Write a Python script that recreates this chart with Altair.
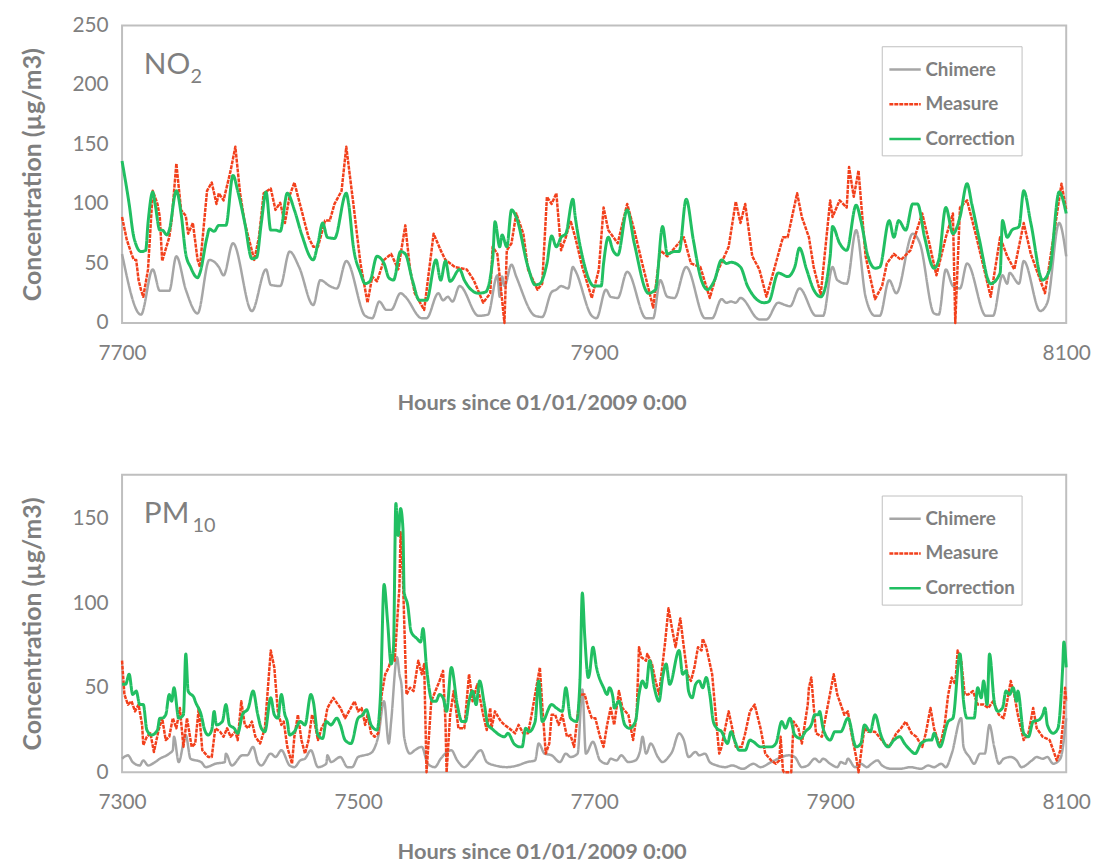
import altair as alt
import pandas as pd

SERIES = ["Chimere", "Measure", "Correction"]
COLORS = ["#a6a6a6", "#f2401c", "#21bf62"]
DASHES = [[1, 0], [4, 1], [1, 0]]
WIDTHS = [2.5, 2.5, 3]
INTERP = ["monotone", "linear", "monotone"]
GREY = "#7f7f7f"
FONT = "Lato"

no2_x_ticks = [7700, 7900, 8100]
no2_y_ticks = [0, 50, 100, 150, 200, 250]
pm_x_ticks = [7300, 7500, 7700, 7900, 8100]
pm_y_ticks = [0, 50, 100, 150]

no2_chimere = [(7700,58),(7708,7),(7713,45),(7716,27),(7720,27),(7723,56),(7727,28),(7732,8),(7737,53),(7741,47),(7743,40),(7747,67),(7755,10),(7761,45),(7763,32),(7767,31),(7771,60),(7775,47),(7781,15),(7784,36),(7788,31),(7791,29),(7795,52),(7803,6),(7806,4),(7809,18),(7812,11),(7814,11),(7818,25),(7820,22),(7827,4),(7829,4),(7834,25),(7836,19),(7838,22),(7840,18),(7843,31),(7851,6),(7855,7),(7859,40),(7860,22),(7861,39),(7862,31),(7865,49),(7867,39),(7875,6),(7878,5),(7882,26),(7884,28),(7886,31),(7889,29),(7891,47),(7892,44),(7899,6),(7901,4),(7905,28),(7907,22),(7910,21),(7914,43),(7922,4),(7925,4),(7928,36),(7931,22),(7934,21),(7939,47),(7947,4),(7950,4),(7954,20),(7956,17),(7958,18),(7960,17),(7962,21),(7970,3),(7973,3),(7978,17),(7981,15),(7983,14),(7987,29),(7994,6),(7997,6),(8001,47),(8003,36),(8007,33),(8011,78),(8015,22),(8019,6),(8021,6),(8025,36),(8028,25),(8035,75),(8038,67),(8044,8),(8046,7),(8049,45),(8052,31),(8055,29),(8058,50),(8066,6),(8069,6),(8073,40),(8075,33),(8076,42),(8080,33),(8082,52),(8089,10),(8092,17),(8097,84),(8100,56)]

no2_measure = [(7700,89),(7702,70),(7704,58),(7705,53),(7706,53),(7707,36),(7708,28),(7709,22),(7711,45),(7713,111),(7715,100),(7716,89),(7717,52),(7720,72),(7721,86),(7723,134),(7725,95),(7727,90),(7728,75),(7730,84),(7732,53),(7733,47),(7736,111),(7738,118),(7740,100),(7741,109),(7743,103),(7746,128),(7748,148),(7750,109),(7752,84),(7756,53),(7758,72),(7760,109),(7763,113),(7765,95),(7767,101),(7769,84),(7771,107),(7773,118),(7776,95),(7779,72),(7781,64),(7783,64),(7786,86),(7788,86),(7790,100),(7793,111),(7795,148),(7798,100),(7801,50),(7804,17),(7806,39),(7808,35),(7811,53),(7814,58),(7817,45),(7820,82),(7822,45),(7824,25),(7828,11),(7832,75),(7835,61),(7837,53),(7841,47),(7846,45),(7849,36),(7853,17),(7856,25),(7857,64),(7859,58),(7862,0),(7863,61),(7865,67),(7867,92),(7870,75),(7872,45),(7876,28),(7878,33),(7880,106),(7882,100),(7884,109),(7886,61),(7888,72),(7890,86),(7892,72),(7895,47),(7899,21),(7902,45),(7904,97),(7906,78),(7910,67),(7914,100),(7917,78),(7920,53),(7925,13),(7928,61),(7931,56),(7938,72),(7941,50),(7945,47),(7949,21),(7952,42),(7957,64),(7960,102),(7962,84),(7964,100),(7967,56),(7970,45),(7973,22),(7975,36),(7980,72),(7982,72),(7986,109),(7988,89),(7991,72),(7993,47),(7996,24),(8000,103),(8001,89),(8004,103),(8007,97),(8008,131),(8010,106),(8012,128),(8015,56),(8019,20),(8022,31),(8024,50),(8027,58),(8030,53),(8034,61),(8039,92),(8042,67),(8045,40),(8049,72),(8052,92),(8053,0),(8055,97),(8058,103),(8062,72),(8068,22),(8072,72),(8075,56),(8078,45),(8082,84),(8085,58),(8091,25),(8098,117),(8100,95)]

no2_correction = [(7700,136),(7703,100),(7705,72),(7708,60),(7710,61),(7711,84),(7713,110),(7714,100),(7716,78),(7717,78),(7719,74),(7720,78),(7723,111),(7725,92),(7727,58),(7729,47),(7732,38),(7733,42),(7736,72),(7737,79),(7739,77),(7741,82),(7744,82),(7747,124),(7749,111),(7752,84),(7755,54),(7757,55),(7759,84),(7761,110),(7763,78),(7765,78),(7767,77),(7770,109),(7773,95),(7776,75),(7781,53),(7783,67),(7785,84),(7787,72),(7790,71),(7795,109),(7796,100),(7798,64),(7801,42),(7803,33),(7805,35),(7808,56),(7811,50),(7813,38),(7815,36),(7818,60),(7820,58),(7823,36),(7826,19),(7829,19),(7833,53),(7835,36),(7837,52),(7839,35),(7843,45),(7845,36),(7851,25),(7854,26),(7857,53),(7858,85),(7860,64),(7861,74),(7863,64),(7865,95),(7867,89),(7872,47),(7875,32),(7877,33),(7880,50),(7882,73),(7884,64),(7886,72),(7888,75),(7891,104),(7892,89),(7895,56),(7900,31),(7903,31),(7904,50),(7906,72),(7908,61),(7910,57),(7914,95),(7917,67),(7923,25),(7926,28),(7929,81),(7931,58),(7934,60),(7936,60),(7939,104),(7942,70),(7945,39),(7948,28),(7951,36),(7954,53),(7956,50),(7958,51),(7962,47),(7965,31),(7972,17),(7974,18),(7978,42),(7982,39),(7985,47),(7987,63),(7990,45),(7993,28),(7996,22),(8000,56),(8001,81),(8004,67),(8007,61),(8011,99),(8013,86),(8016,56),(8019,46),(8021,47),(8025,86),(8027,72),(8029,86),(8032,78),(8035,100),(8037,100),(8040,72),(8044,46),(8046,53),(8049,97),(8052,75),(8055,89),(8058,117),(8060,100),(8063,72),(8068,33),(8072,42),(8073,86),(8075,72),(8077,78),(8080,81),(8082,111),(8085,84),(8090,36),(8093,45),(8097,110),(8100,92)]

pm_chimere = [(7300,8),(7305,10),(7309,6),(7315,4),(7318,7),(7322,4),(7328,6),(7332,8),(7340,11),(7343,13),(7344,21),(7348,6),(7354,22),(7358,8),(7367,6),(7371,3),(7379,5),(7387,6),(7388,11),(7393,4),(7402,10),(7406,10),(7411,15),(7415,6),(7418,4),(7426,11),(7430,9),(7435,13),(7442,4),(7446,3),(7451,7),(7455,8),(7460,13),(7466,3),(7473,5),(7474,10),(7477,6),(7485,9),(7491,3),(7495,3),(7500,9),(7505,10),(7510,11),(7513,13),(7517,21),(7522,42),(7526,17),(7528,30),(7533,68),(7535,58),(7537,50),(7539,21),(7544,11),(7548,13),(7554,15),(7559,5),(7565,3),(7570,8),(7579,13),(7584,7),(7590,3),(7596,7),(7604,13),(7609,6),(7616,4),(7626,3),(7635,4),(7643,6),(7650,7),(7653,17),(7658,11),(7664,10),(7671,6),(7676,11),(7680,9),(7686,11),(7690,49),(7693,11),(7699,18),(7705,7),(7711,5),(7714,8),(7719,7),(7723,10),(7729,6),(7735,7),(7739,13),(7741,21),(7744,11),(7748,17),(7754,9),(7758,6),(7763,9),(7766,12),(7772,23),(7776,19),(7780,9),(7786,12),(7789,10),(7794,11),(7798,6),(7804,4),(7811,3),(7817,4),(7826,2),(7835,5),(7841,3),(7850,6),(7865,10),(7870,9),(7876,3),(7881,4),(7887,8),(7891,6),(7894,8),(7900,5),(7906,3),(7909,6),(7913,5),(7915,8),(7921,3),(7926,5),(7931,3),(7935,5),(7940,7),(7944,4),(7952,2),(7959,2),(7968,3),(7977,2),(7983,4),(7988,3),(7994,5),(7998,3),(8003,11),(8011,32),(8013,15),(8018,9),(8022,5),(8027,11),(8031,11),(8035,28),(8039,15),(8043,5),(8047,8),(8053,9),(8058,7),(8062,3),(8071,7),(8075,9),(8080,8),(8084,9),(8089,5),(8095,8),(8100,32)]

pm_measure = [(7300,66),(7302,46),(7305,40),(7308,42),(7311,36),(7314,40),(7317,28),(7318,16),(7321,21),(7324,23),(7327,12),(7331,25),(7334,32),(7337,19),(7340,21),(7343,32),(7346,26),(7349,38),(7352,15),(7355,32),(7359,15),(7362,17),(7365,38),(7368,13),(7373,9),(7376,9),(7379,26),(7383,24),(7386,21),(7389,26),(7392,21),(7396,24),(7398,19),(7401,42),(7404,28),(7407,26),(7410,30),(7413,21),(7417,17),(7421,26),(7426,72),(7429,62),(7432,36),(7435,28),(7437,30),(7440,15),(7444,5),(7446,21),(7449,34),(7452,19),(7455,11),(7458,19),(7461,34),(7463,30),(7466,19),(7469,26),(7472,30),(7474,38),(7479,44),(7485,38),(7489,32),(7497,42),(7500,36),(7503,38),(7506,28),(7508,34),(7511,23),(7514,21),(7517,23),(7520,46),(7523,58),(7526,62),(7529,70),(7531,66),(7534,99),(7535,109),(7536,142),(7538,115),(7539,91),(7541,46),(7544,50),(7547,48),(7551,66),(7554,58),(7556,64),(7558,0),(7562,42),(7569,54),(7572,60),(7574,30),(7575,0),(7578,34),(7581,48),(7585,26),(7590,26),(7594,58),(7597,42),(7601,52),(7606,34),(7609,25),(7612,38),(7613,26),(7616,36),(7621,30),(7624,28),(7628,26),(7633,23),(7636,28),(7640,23),(7644,23),(7647,34),(7650,46),(7654,62),(7656,40),(7659,11),(7662,17),(7664,34),(7667,34),(7670,28),(7673,34),(7677,21),(7680,22),(7683,15),(7688,46),(7692,46),(7695,38),(7698,32),(7701,32),(7705,21),(7708,15),(7711,28),(7714,38),(7717,28),(7721,48),(7724,38),(7729,34),(7733,19),(7736,34),(7738,74),(7740,68),(7744,66),(7745,70),(7749,64),(7752,54),(7755,46),(7760,76),(7763,97),(7766,85),(7769,74),(7773,91),(7776,74),(7779,58),(7782,54),(7785,62),(7788,74),(7791,72),(7792,79),(7795,74),(7800,58),(7804,26),(7806,11),(7808,15),(7811,26),(7814,36),(7817,26),(7820,15),(7825,15),(7828,23),(7832,36),(7836,40),(7841,26),(7845,11),(7850,7),(7854,5),(7857,7),(7858,21),(7860,1),(7861,0),(7867,0),(7869,30),(7873,26),(7876,17),(7881,40),(7882,50),(7884,56),(7888,23),(7893,21),(7903,58),(7906,46),(7912,34),(7915,36),(7918,23),(7922,9),(7924,0),(7929,26),(7932,24),(7938,24),(7946,17),(7950,15),(7956,23),(7960,26),(7964,30),(7969,23),(7973,21),(7978,15),(7981,23),(7985,38),(7988,26),(7993,15),(7997,28),(8000,46),(8003,56),(8006,52),(8008,72),(8011,66),(8014,46),(8017,46),(8021,48),(8025,40),(8030,40),(8034,38),(8038,42),(8043,34),(8047,32),(8050,42),(8053,54),(8056,46),(8059,34),(8064,19),(8068,23),(8072,38),(8075,26),(8080,21),(8086,19),(8090,11),(8092,7),(8095,13),(8098,34),(8099,50),(8100,42)]

pm_correction = [(7300,52),(7303,52),(7306,58),(7309,46),(7312,48),(7315,40),(7318,40),(7321,25),(7325,22),(7330,25),(7332,32),(7334,32),(7337,34),(7340,46),(7342,42),(7344,50),(7348,32),(7352,34),(7354,70),(7356,48),(7361,44),(7362,42),(7367,34),(7370,25),(7373,22),(7376,25),(7378,36),(7380,28),(7385,30),(7388,40),(7391,28),(7395,26),(7398,23),(7402,34),(7407,38),(7411,48),(7415,34),(7418,26),(7421,24),(7426,44),(7429,34),(7432,32),(7435,46),(7438,34),(7440,30),(7442,22),(7446,24),(7451,30),(7455,28),(7460,46),(7462,42),(7466,22),(7470,20),(7473,30),(7477,28),(7482,32),(7485,28),(7489,19),(7494,17),(7500,32),(7504,34),(7507,37),(7511,28),(7516,25),(7519,46),(7522,111),(7525,89),(7528,64),(7530,74),(7532,159),(7534,140),(7536,156),(7538,144),(7539,107),(7542,99),(7545,83),(7550,79),(7553,77),(7555,85),(7558,62),(7563,42),(7566,42),(7569,46),(7572,44),(7575,36),(7579,62),(7584,40),(7588,30),(7591,30),(7594,42),(7597,48),(7600,40),(7603,54),(7607,40),(7610,28),(7613,26),(7624,21),(7627,23),(7632,17),(7637,15),(7639,15),(7642,26),(7645,24),(7650,30),(7653,54),(7656,30),(7664,40),(7668,38),(7673,36),(7676,50),(7680,32),(7685,30),(7688,54),(7690,106),(7692,81),(7695,56),(7696,58),(7699,74),(7702,62),(7708,50),(7711,46),(7713,50),(7716,44),(7717,38),(7721,42),(7726,28),(7730,26),(7735,30),(7738,46),(7741,54),(7744,50),(7747,66),(7751,50),(7755,42),(7758,56),(7761,64),(7764,52),(7772,72),(7775,58),(7778,60),(7780,48),(7783,44),(7786,52),(7789,54),(7792,50),(7795,56),(7798,46),(7801,30),(7804,26),(7808,24),(7813,17),(7816,24),(7819,19),(7823,13),(7828,13),(7832,19),(7835,18),(7841,15),(7850,15),(7854,17),(7859,30),(7862,26),(7866,32),(7870,22),(7875,20),(7879,24),(7884,28),(7887,34),(7890,34),(7891,36),(7894,26),(7900,19),(7904,24),(7909,24),(7915,32),(7922,15),(7926,17),(7929,28),(7934,24),(7938,34),(7943,22),(7949,15),(7954,19),(7959,21),(7963,17),(7968,13),(7972,11),(7977,17),(7983,19),(7986,19),(7988,23),(7993,15),(8000,30),(8004,32),(8010,70),(8013,42),(8016,32),(8022,32),(8025,50),(8028,44),(8030,54),(8033,40),(8035,70),(8039,42),(8042,36),(8046,38),(8049,48),(8052,46),(8055,50),(8058,42),(8059,48),(8064,23),(8068,21),(8072,30),(8077,31),(8080,34),(8082,38),(8084,28),(8089,23),(8093,26),(8097,62),(8098,77),(8100,62)]


def frame(pairs, name):
    return pd.DataFrame({"hour": [p[0] for p in pairs],
                         "value": [p[1] for p in pairs],
                         "series": name})


def panel(series_pairs, xdom, xticks, ydom, yticks, main_txt, sub_txt, sub_x):
    data = pd.concat([frame(p, n) for p, n in zip(series_pairs, SERIES)],
                     ignore_index=True)
    legend = alt.Legend(title=None, orient="none", legendX=766, legendY=21,
                        direction="vertical", symbolType="stroke",
                        symbolSize=1000, symbolStrokeWidth=2.5,
                        labelFont=FONT, labelFontSize=19,
                        labelFontWeight="bold", labelColor=GREY,
                        labelOffset=3, strokeColor="#bfbfbf",
                        fillColor="white", padding=6, rowPadding=7)
    x = alt.X("hour:Q",
              scale=alt.Scale(domain=xdom, nice=False, zero=False),
              axis=alt.Axis(values=xticks, format="d",
                            title="Hours since 01/01/2009 0:00",
                            labelPadding=20, titleX=423, titleY=80,
                            titleBaseline="middle", titleAlign="center",
                            labelFlush=False, titleFontSize=22))
    y = alt.Y("value:Q",
              scale=alt.Scale(domain=ydom, nice=False),
              axis=alt.Axis(values=yticks, title="Concentration (µg/m3)",
                            labelPadding=14, titlePadding=27,
                            titleFontSize=25))
    color = alt.Color("series:N", scale=alt.Scale(domain=SERIES, range=COLORS),
                      legend=legend)
    dash = alt.StrokeDash("series:N",
                          scale=alt.Scale(domain=SERIES, range=DASHES),
                          legend=legend)
    layers = []
    base = alt.Chart(data)
    for s, w, ip in zip(SERIES, WIDTHS, INTERP):
        layers.append(
            base.transform_filter(alt.datum.series == s)
            .mark_line(strokeWidth=w, strokeJoin="round", interpolate=ip)
            .encode(x=x, y=y, color=color, strokeDash=dash)
        )
    lbl = pd.DataFrame({"main": [main_txt], "sub": [sub_txt]})
    layers.append(
        alt.Chart(lbl).mark_text(align="left", baseline="alphabetic",
                                 fontSize=30, font=FONT, color=GREY)
        .encode(x=alt.value(22), y=alt.value(49), text="main:N")
    )
    layers.append(
        alt.Chart(lbl).mark_text(align="left", baseline="alphabetic",
                                 fontSize=20, font=FONT, color=GREY)
        .encode(x=alt.value(sub_x), y=alt.value(58), text="sub:N")
    )
    return alt.layer(*layers).properties(width=952, height=300)


top = panel([no2_chimere, no2_measure, no2_correction], [7700, 8100],
            no2_x_ticks, [0, 250], no2_y_ticks, "NO", "2", 69)
bottom = panel([pm_chimere, pm_measure, pm_correction], [7300, 8100],
               pm_x_ticks, [0, 176], pm_y_ticks, "PM", "10", 71)

chart = (
    alt.vconcat(top, bottom, spacing=60)
    .resolve_scale(color="independent", strokeDash="independent",
                   x="independent", y="independent")
    .properties(padding={"left": 11, "top": 2, "right": 0, "bottom": 2})
    .configure_view(stroke="#bfbfbf", strokeWidth=2)
    .configure_axis(labelFont=FONT, labelFontSize=21, labelColor=GREY,
                    titleFont=FONT, titleFontSize=21, titleFontWeight="bold",
                    titleColor=GREY, domain=False, ticks=False, grid=False)
)

chart.save("out.html", embed_options={"renderer": "svg", "actions": False})
